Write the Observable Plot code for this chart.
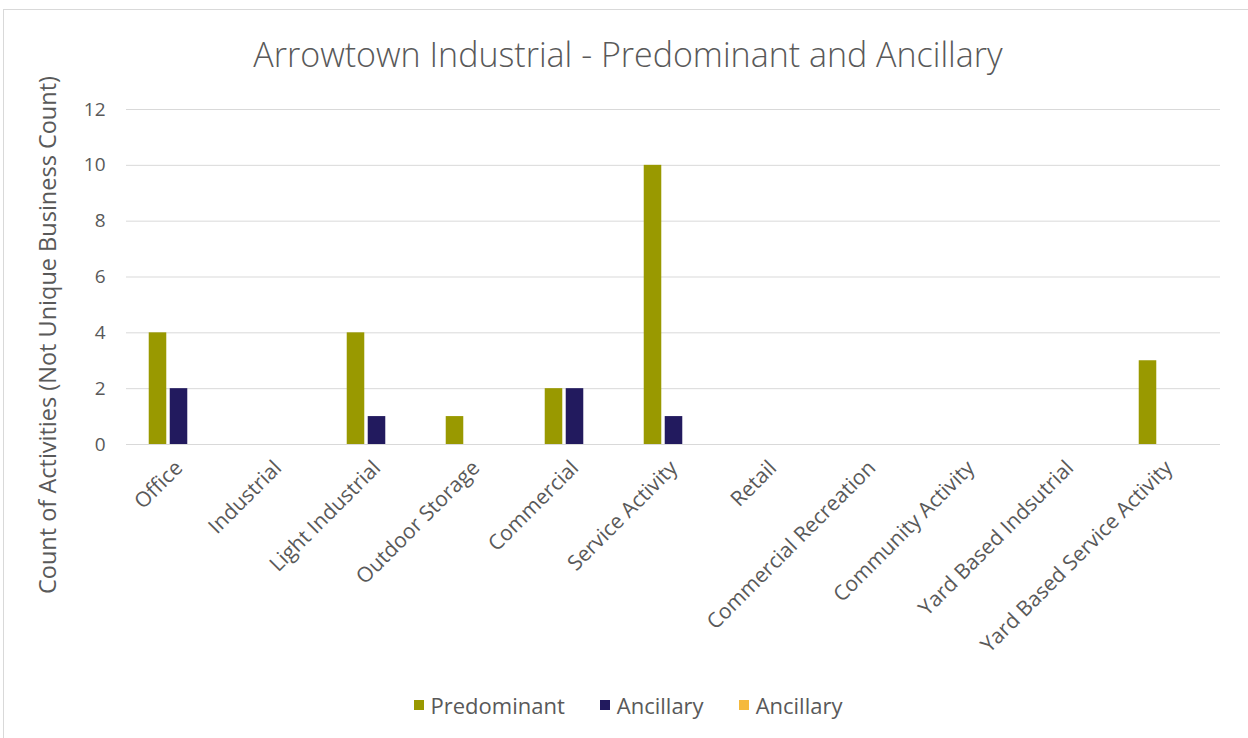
<!DOCTYPE html>
<html>
<head>
<meta charset="utf-8">
<script src="https://cdn.jsdelivr.net/npm/d3@7"></script>
<script src="https://cdn.jsdelivr.net/npm/@observablehq/plot@0.6"></script>
<style>
  body { margin: 0; background: #fff; }
  #wrap { position: relative; width: 1248px; height: 738px; overflow: hidden; font-family: "Open Sans", sans-serif; color: #595959; }
  #frame { position: absolute; left: 3px; top: 9px; width: 1260px; height: 740px; border: 1px solid #d9d9d9; box-sizing: border-box; }
  #title { position: absolute; left: 0; width: 1256px; top: 33px; line-height: 42px; text-align: center; font-size: 34px; font-weight: 300; color: #595959; }
  #ylabel { position: absolute; left: 47px; top: 335px; transform: translate(-50%, -50%) rotate(-90deg); white-space: nowrap; font-size: 23.5px; color: #595959; }
  #chart { position: absolute; left: 0; top: 80px; }
  #legend { position: absolute; top: 690px; left: 0; width: 1256px; display: flex; justify-content: center; gap: 35px; font-size: 22px; line-height: 30px; color: #595959; }
  .item { display: flex; align-items: center; gap: 7px; }
  .sw { width: 10px; height: 10px; display: inline-block; }
</style>
</head>
<body>
<div id="wrap">
  <div id="frame"></div>
  <div id="title"></div>
  <div id="ylabel"></div>
  <div id="chart"></div>
  <div id="legend"></div>
</div>
<script>
const titleText = "Arrowtown Industrial - Predominant and Ancillary";
const yLabel = "Count of Activities (Not Unique Business Count)";
const categories = ["Office", "Industrial", "Light Industrial", "Outdoor Storage", "Commercial", "Service Activity", "Retail", "Commercial Recreation", "Community Activity", "Yard Based Indsutrial", "Yard Based Service Activity"];
const seriesNames = ["Predominant", "Ancillary", "Ancillary"];
const seriesColors = ["#999900", "#221a5e", "#f5b93b"];
const predominant = [4, 0, 4, 1, 2, 10, 0, 0, 0, 0, 3];
const ancillary = [2, 0, 1, 0, 2, 1, 0, 0, 0, 0, 0];
const ancillary2 = [0, 0, 0, 0, 0, 0, 0, 0, 0, 0, 0];
const yTicks = [0, 2, 4, 6, 8, 10, 12];

const seriesValues = [predominant, ancillary, ancillary2];
const seriesRows = seriesValues.map(vals =>
  categories.map((c, i) => ({category: c, value: vals[i]})).filter(d => d.value > 0)
);

document.getElementById("title").textContent = titleText;
document.getElementById("ylabel").textContent = yLabel;

const W = 1248, mL = 126, mR = 28;
const step = (W - mL - mR) / categories.length;
const barW = 18, gap = 3;
const inset = (step - barW) / 2;
const offsets = [-(barW + gap), 0, barW + gap];

const chart = Plot.plot({
  width: W,
  height: 600,
  marginTop: 29,
  marginBottom: 236,
  marginLeft: mL,
  marginRight: mR,
  style: {fontFamily: "'Open Sans', sans-serif", fontSize: "19px", color: "#595959", background: "transparent"},
  x: {domain: categories, padding: 0, axis: null},
  y: {domain: [0, 12], ticks: yTicks, tickSize: 0, tickPadding: 21, label: null},
  marks: [
    Plot.gridY(yTicks, {stroke: "#d9d9d9", strokeOpacity: 1, strokeWidth: 1}),
    ...seriesRows.map((rows, j) => Plot.barY(rows, {
      x: "category", y: "value", fill: seriesColors[j],
      insetLeft: inset, insetRight: inset, dx: offsets[j]
    })),
    Plot.axisX({tickRotate: -45, tickSize: 0, tickPadding: 20, label: null, fontSize: 21})
  ]
});
document.getElementById("chart").appendChild(chart);

const legend = document.getElementById("legend");
seriesNames.forEach((n, i) => {
  const it = document.createElement("div");
  it.className = "item";
  const sw = document.createElement("span");
  sw.className = "sw";
  sw.style.background = seriesColors[i];
  const t = document.createElement("span");
  t.textContent = n;
  it.appendChild(sw); it.appendChild(t);
  legend.appendChild(it);
});
</script>
</body>
</html>
